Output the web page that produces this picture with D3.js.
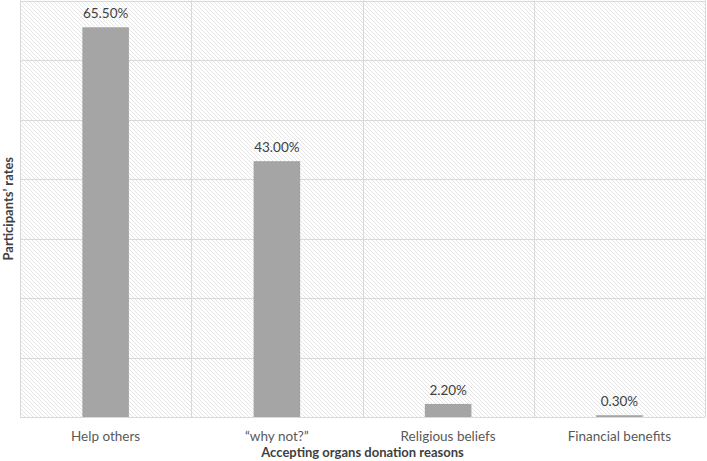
<!DOCTYPE html>
<html><head><meta charset="utf-8">
<script src="https://cdn.jsdelivr.net/npm/d3@7"></script>
<style>body{margin:0;background:#fff}svg{display:block}text{font-family:Lato,"Open Sans",sans-serif}</style>
</head><body>
<svg id="c" width="707" height="461"></svg>
<script>
const categories = ["Help others", "\u201Cwhy not?\u201D", "Religious beliefs", "Financial benefits"];
const values = [65.5, 43.0, 2.2, 0.3];
const valueLabels = ["65.50%", "43.00%", "2.20%", "0.30%"];
const yTicks = [0, 10, 20, 30, 40, 50, 60, 70];

const svg = d3.select("#c");
const m = {l: 20, r: 2, t: 0, b: 44};
const W = 707, H = 461;
const x = d3.scaleBand().domain(categories).range([m.l, W - m.r]).paddingInner(0).paddingOuter(0);
const y = d3.scaleLinear().domain([0, 70]).range([H - m.b, m.t + 0.5]);

const defs = svg.append("defs");
const pat = defs.append("pattern").attr("id", "hatch").attr("patternUnits", "userSpaceOnUse")
  .attr("width", 4).attr("height", 4);
pat.append("rect").attr("width", 4).attr("height", 4).attr("fill", "#ffffff");
pat.append("path").attr("d", "M-1,-1 L5,5 M-1,3 L1,5 M3,-1 L5,1").attr("stroke", "#e2e2e2").attr("stroke-width", 0.9);

svg.append("rect").attr("x", m.l).attr("y", y(70)).attr("width", W - m.r - m.l).attr("height", y(0) - y(70))
  .attr("fill", "url(#hatch)");

// horizontal gridlines
svg.append("g").selectAll("line").data(yTicks).join("line")
  .attr("x1", m.l).attr("x2", W - m.r)
  .attr("y1", d => Math.round(y(d)) + 0.5).attr("y2", d => Math.round(y(d)) + 0.5)
  .attr("stroke", "#d9d9d9").attr("stroke-width", 1);

// vertical category boundaries
const bounds = categories.map(c => x(c)).concat([W - m.r]);
svg.append("g").selectAll("line").data(bounds).join("line")
  .attr("x1", d => Math.round(d) + 0.5).attr("x2", d => Math.round(d) + 0.5)
  .attr("y1", y(70)).attr("y2", y(0))
  .attr("stroke", "#d9d9d9").attr("stroke-width", 1);

const bw = x.bandwidth() * 0.272;
svg.append("g").selectAll("rect").data(values).join("rect")
  .attr("x", (d, i) => x(categories[i]) + x.bandwidth() / 2 - bw / 2)
  .attr("width", bw)
  .attr("y", d => y(d))
  .attr("height", d => y(0) - y(d))
  .attr("fill", "#a5a5a5");

svg.append("g").selectAll("text").data(values).join("text")
  .attr("x", (d, i) => x(categories[i]) + x.bandwidth() / 2)
  .attr("y", d => y(d) - 9)
  .attr("text-anchor", "middle").attr("font-size", 13.5).attr("fill", "#404040")
  .text((d, i) => valueLabels[i]);

// x axis labels
svg.append("g").selectAll("text").data(categories).join("text")
  .attr("x", d => x(d) + x.bandwidth() / 2)
  .attr("y", 441)
  .attr("text-anchor", "middle").attr("font-size", 13.5).attr("fill", "#595959")
  .text(d => d);

svg.append("text").attr("x", (m.l + W - m.r) / 2).attr("y", 457)
  .attr("text-anchor", "middle").attr("font-size", 13).attr("font-weight", "bold").attr("fill", "#404040")
  .text("Accepting organs donation reasons");

svg.append("text").attr("transform", `translate(13,${(y(0) + y(70)) / 2}) rotate(-90)`)
  .attr("text-anchor", "middle").attr("font-size", 13).attr("font-weight", "bold").attr("fill", "#404040")
  .text("Participants\u2019 rates");
</script>
</body></html>
